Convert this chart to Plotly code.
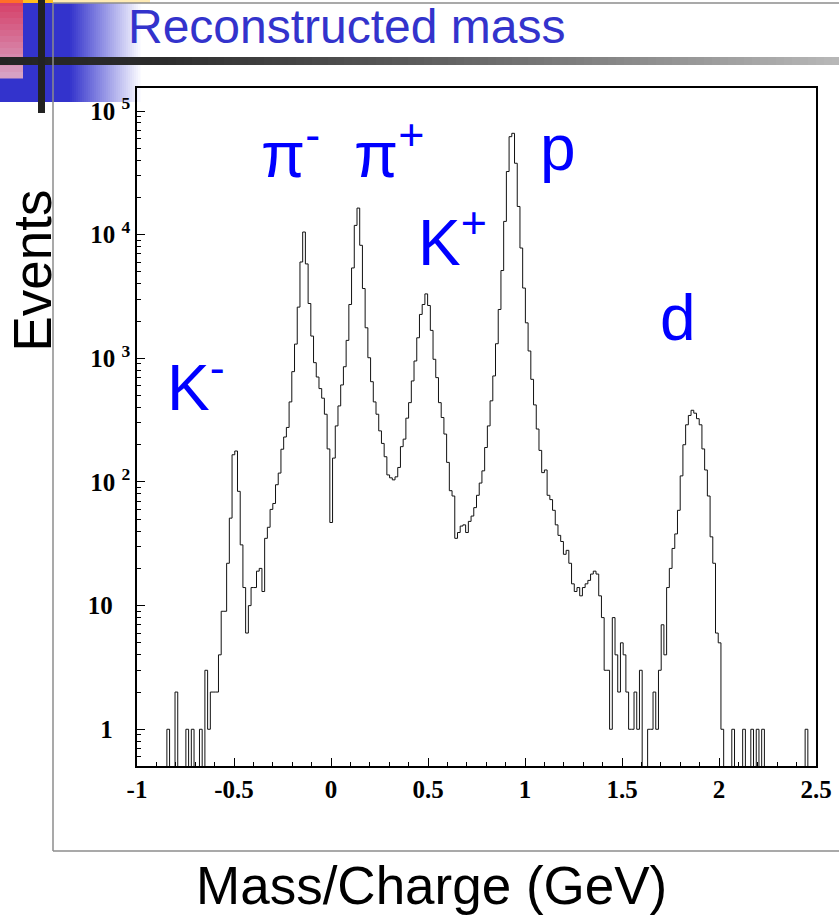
import plotly.graph_objects as go

# ---------------- data ----------------
x_lo = -1.0
x_hi = 2.5
bin_width = 0.014

counts = [
    0, 0, 0, 0, 0, 0, 0, 0, 0, 0,            # 0-9
    0, 1, 0, 0, 2, 0, 0, 0, 1, 0,            # 10-19
    1, 0, 0, 1, 0, 3, 1, 2, 2, 2,            # 20-29
    4, 9, 9, 22, 51, 166, 178, 84, 31, 14,   # 30-39
    6, 10, 14, 14, 19, 20, 13, 35, 43, 60,   # 40-49
    67, 95, 118, 184, 231, 276, 444, 780, 1303, 2594,      # 50-59
    6011, 10500, 5800, 2775, 1513, 922, 706, 569, 476, 353,  # 60-69
    185, 47, 156, 284, 412, 609, 855, 1396, 2724, 5380,     # 70-79
    11880, 16400, 8200, 3667, 1766, 1011, 647, 444, 353, 259,  # 80-89
    205, 160, 114, 108, 104, 110, 131, 193, 222, 328,       # 90-99
    438, 656, 951, 1466, 2264, 2724, 3318, 2674, 1682, 982,  # 100-109
    698, 438, 332, 244, 144, 85, 77, 35, 39, 44,            # 110-119
    45, 39, 48, 53, 62, 78, 98, 123, 190, 284,              # 120-129
    453, 720, 1312, 2483, 5128, 12800, 32400, 62000, 66000, 37800,  # 130-139
    16900, 7800, 3700, 1936, 1146, 676, 420, 268, 180, 119,  # 140-149
    125, 78, 72, 59, 45, 37, 33, 26, 28, 22,                # 150-159
    15, 13, 14, 12, 14, 15, 16, 18, 19, 18,                 # 160-169
    12, 8, 3, 3, 1, 8, 4, 2, 5, 4,                          # 170-179
    2, 1, 1, 2, 1, 3, 0, 0, 1, 1,                           # 180-189
    2, 1, 3, 7, 4, 14, 20, 29, 38, 59,                      # 190-199
    112, 200, 290, 345, 380, 360, 325, 290, 185, 125,       # 200-209
    77, 36, 22, 6, 5, 1, 0, 0, 0, 1,                        # 210-219
    0, 0, 0, 1, 0, 0, 1, 0, 1, 0,                           # 220-229
    1, 0, 0, 0, 0, 0, 0, 0, 0, 0,                           # 230-239
    0, 0, 0, 0, 0, 0, 1, 0, 0, 0,                           # 240-249
]

x_tick_vals = [-1, -0.5, 0, 0.5, 1, 1.5, 2, 2.5]
x_tick_text = ["-1", "-0.5", "0", "0.5", "1", "1.5", "2", "2.5"]
y_tick_vals = [1, 10, 100, 1000, 10000, 100000]
y_tick_text = ["1\u2007\u2009", "10\u2007\u2009", "10 <sup>2</sup>",
               "10 <sup>3</sup>", "10 <sup>4</sup>", "10 <sup>5</sup>"]

title_text = "Reconstructed mass"
y_title = "Events"
x_title = "Mass/Charge (GeV)"
particle_labels = ["K<sup>-</sup>", "π<sup>-</sup>", "π<sup>+</sup>", "K<sup>+</sup>", "p", "d"]

# ---------------- geometry ----------------
W, H = 839, 916
L, R, T, B = 137, 23, 88, 150
PW, PH = W - L - R, H - T - B


def fx(px):
    return (px - L) / PW


def fy(py):
    return (H - B - py) / PH


# ---------------- histogram trace ----------------
edges = [x_lo + i * bin_width for i in range(len(counts) + 1)]
floor = 1e-3
y_plot = [c if c > 0 else floor for c in counts] + [floor]

fig = go.Figure()
fig.add_trace(go.Scatter(
    x=edges, y=y_plot, mode="lines", line_shape="hv",
    line=dict(color="#111111", width=1), hoverinfo="skip", showlegend=False,
))

# ---------------- decorations (slide template) ----------------
shapes = []


def rect(x0, y0, x1, y1, color, layer="below"):
    shapes.append(dict(type="rect", xref="paper", yref="paper",
                       x0=fx(x0), x1=fx(x1), y0=fy(y1), y1=fy(y0),
                       fillcolor=color, line=dict(width=0), layer=layer))


def lerp(c0, c1, t):
    return "rgb(%d,%d,%d)" % tuple(round(a + (b - a) * t) for a, b in zip(c0, c1))


# blue block and gradient to white
rect(0, 0, 70, 102, "rgb(51,51,204)")
n = 35
for i in range(n):
    t = (i + 0.5) / n
    rect(70 + i * 2, 0, 70 + (i + 1) * 2 + 0.5, 102, lerp((51, 51, 204), (250, 250, 255), t))
# pink square
m = 13
for i in range(m):
    t = (i + 0.5) / m
    rect(0, i * 6, 23, (i + 1) * 6 + 0.5, lerp((214, 60, 100), (215, 165, 200), t))
# orange/yellow strip on top
rect(0, 0, 23, 3, "rgb(255,110,40)")
rect(23, 0, 53, 3, "rgb(255,190,30)")
rect(53, 0, 150, 3, "rgb(255,235,180)")

# horizontal gray bar with gradient
stops = [(0, (36, 36, 36)), (160, (44, 44, 44)), (420, (92, 92, 92)), (839, (184, 184, 184))]
step = 8
xx = 0
while xx < 839:
    mid = xx + step / 2
    for (a, ca), (b, cb) in zip(stops[:-1], stops[1:]):
        if a <= mid <= b:
            col = lerp(ca, cb, (mid - a) / (b - a))
            break
    rect(xx, 57, xx + step + 0.5, 65, col)
    xx += step
# black vertical bar
rect(38, 0, 45, 113, "#222222")

# slide frame lines
line_col = "#8c8c8c"
shapes.append(dict(type="line", xref="paper", yref="paper", x0=fx(53), x1=fx(53), y0=fy(3), y1=fy(851),
                   line=dict(color=line_col, width=1.5), layer="below"))
shapes.append(dict(type="line", xref="paper", yref="paper", x0=fx(53), x1=fx(845), y0=fy(3), y1=fy(3),
                   line=dict(color=line_col, width=1.5), layer="below"))
shapes.append(dict(type="line", xref="paper", yref="paper", x0=fx(53), x1=fx(845), y0=fy(851), y1=fy(851),
                   line=dict(color=line_col, width=1.5), layer="below"))

# ---------------- text ----------------
annotations = []


def text_at(text, px, baseline, size, color, family="Liberation Sans", xanchor="left", angle=0):
    cy = baseline - 0.3465 * size
    annotations.append(dict(text=text, xref="paper", yref="paper", x=fx(px), y=fy(cy),
                            xanchor=xanchor, yanchor="middle", showarrow=False, textangle=angle,
                            font=dict(family=family, size=size, color=color)))


text_at(title_text, 126, 43, 48, "#3333CC")
annotations.append(dict(text=y_title, xref="paper", yref="paper", x=fx(31.5), y=fy(271),
                        xanchor="center", yanchor="middle", showarrow=False, textangle=-90,
                        font=dict(family="Liberation Sans", size=53, color="black")))
text_at(x_title, 431, 904, 53, "black", xanchor="center")

blue = "#0000FF"
label_pos = [(165, 405), (259, 172), (352, 172), (416, 260), (538, 170), (658, 340)]
for lab, (lx, lb) in zip(particle_labels, label_pos):
    text_at(lab, lx, lb, 64, blue)

# ---------------- layout ----------------
tick_font = dict(family="Liberation Serif", size=25, color="black", weight="bold")
minor_y = [m * 10 ** e for e in range(-1, 6) for m in range(2, 10)]

fig.update_layout(
    width=W, height=H,
    margin=dict(l=L, r=R, t=T, b=B, pad=0, autoexpand=False),
    paper_bgcolor="white", plot_bgcolor="white",
    shapes=shapes, annotations=annotations,
    showlegend=False,
    xaxis=dict(range=[x_lo, x_hi], tickmode="array", tickvals=x_tick_vals, ticktext=x_tick_text,
               automargin=False,
               ticks="inside", ticklen=8, tickwidth=1, tickcolor="black",
               minor=dict(tickmode="linear", tick0=-1, dtick=0.1, ticks="inside", ticklen=4,
                          tickwidth=1, tickcolor="black", showgrid=False),
               showline=True, linecolor="black", linewidth=1.5, mirror=True,
               showgrid=False, zeroline=False, tickfont=tick_font),
    yaxis=dict(type="log", range=[-0.297, 5.186], tickmode="array", tickvals=y_tick_vals,
               ticktext=y_tick_text, automargin=False,
               ticks="inside", ticklen=8, tickwidth=1, tickcolor="black",
               minor=dict(tickmode="array", tickvals=minor_y, ticks="inside", ticklen=4,
                          tickwidth=1, tickcolor="black", showgrid=False),
               showline=True, linecolor="black", linewidth=1.5, mirror=True,
               showgrid=False, zeroline=False, tickfont=tick_font),
)

fig.write_html("out.html")
